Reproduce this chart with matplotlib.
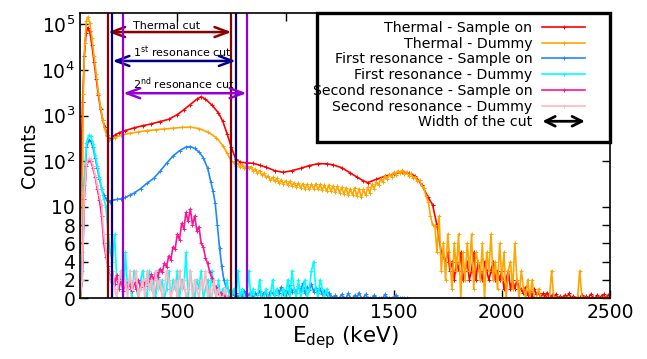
#!/usr/bin/env python3
"""
Deposited energy spectra for thermal / resonance runs with cut windows.
"""

import numpy as np
import matplotlib
matplotlib.use("Agg")
import matplotlib.pyplot as plt
from matplotlib.patches import FancyArrowPatch, Rectangle
from matplotlib.legend_handler import HandlerBase

# ---- data ----
red_e = [50, 55, 62, 70, 78, 86, 95, 105, 115, 125, 135, 145, 155, 165, 175, 185, 195, 210, 230, 260,
         300, 340, 380, 420, 460, 500, 530, 560, 590, 610, 630, 660, 690, 710, 730, 750, 770, 790, 820, 850,
         880, 910, 950, 990, 1030, 1070, 1110, 1150, 1190, 1220, 1260, 1300, 1330, 1360, 1380, 1420, 1460,
         1500, 1540, 1570, 1600, 1630, 1660, 1680, 1700, 1720, 1740]
red_c = [5, 100, 2000, 2e4, 6.5e4, 8.5e4, 7e4, 3.5e4, 1.5e4, 6500, 2800, 1400, 800, 550, 380, 300, 320, 370, 420, 470,
         540, 600, 660, 740, 830, 1050, 1350, 1750, 2300, 2600, 2300, 1700, 1150, 750, 400, 200, 110, 95, 92, 90,
         82, 74, 62, 57, 62, 70, 80, 88, 88, 83, 72, 55, 45, 37, 34, 40, 47,
         52, 58, 55, 47, 30, 16, 11, 8, 5, 4]
red_tail_start = 1750
red_tail = [5, 3, 4, 2, 4, 3, 5, 2, 3, 4, 2, 3, 5, 2, 4, 3, 2, 4, 3, 2, 3, 4, 2, 3, 2, 3, 1, 2, 3, 1, 2, 1, 2, 1,
            1, 0.5, 1.2, 0.3, 0.8, 0.2, 1, 0.4, 0.6, 0, 0.5, 0.2, 0.6, 0, 0.3, 0, 0.4, 0, 0.2, 0,
            0.3, 0, 0.5, 0, 0.2, 0, 0.1, 0, 0.3, 0, 0.2, 0, 0.4, 0.1, 0, 0.3, 0, 0.2, 0.4, 0, 0.3, 0]

orange_e = [55, 60, 65, 72, 80, 86, 95, 105, 115, 125, 135, 145, 155, 165, 175, 185, 195, 210, 240, 280,
            320, 360, 400, 440, 480, 520, 560, 600, 640, 680, 710, 730, 750]
orange_c = [0, 5, 3000, 4e4, 1.2e5, 1.45e5, 1.1e5, 5e4, 2e4, 8000, 3200, 1500, 800, 500, 350, 290, 300, 330, 370, 410,
            440, 470, 490, 510, 530, 550, 560, 520, 440, 330, 220, 150, 100]
orange_mid_start = 760
orange_mid = [95, 80, 90, 76, 84, 72, 80, 70, 76, 62,
              68, 56, 62, 50, 54, 44, 48, 38, 44, 36,
              42, 33, 39, 32, 37, 30, 36, 29, 34, 27,
              33, 26, 32, 25, 31, 24, 31, 25, 32, 24,
              31, 23, 30, 22, 30, 22, 29, 21, 28, 20,
              27, 19, 26, 18, 25, 18, 26, 17, 25, 16,
              24, 18, 27, 20, 31, 25, 35, 30, 41, 35,
              47, 40, 52, 45, 57, 50, 62, 54, 63, 52,
              58, 48, 54, 42, 46, 36, 38, 28, 26, 17,
              13, 9, 8]
orange_tail_start = 1690
orange_tail = [8, 5, 9, 3, 6, 2, 7, 4, 1, 6, 3, 7, 0, 5, 2, 6, 3, 7, 1, 5, 4, 2, 6, 0, 5, 3, 7, 2, 4, 1,
               6, 2, 5, 0, 3, 4, 1, 6, 2, 0, 3, 1, 0, 2,
               0, 2, 0, 0, 1, 0, 0, 0, 0, 0, 3, 0, 0, 0, 0, 0, 0, 0, 0, 0,
               0, 0, 0, 3, 0, 0, 0, 0, 0, 0, 0, 0, 0, 0, 0, 0, 0, 0]

blue_e = [50, 60, 70, 80, 90, 100, 110, 120, 130, 140, 150, 160, 170, 180, 190, 200, 220, 240, 260, 280,
          300, 330, 360, 390, 420, 450, 480, 510, 540, 560, 580, 600, 620, 640, 655, 665, 675, 685, 695, 705,
          715, 725, 740]
blue_c = [0, 2, 30, 200, 290, 280, 200, 120, 70, 40, 25, 18, 15, 14, 13, 14, 14.5, 15, 16, 18,
          20, 25, 33, 42, 60, 90, 130, 170, 205, 210, 190, 160, 120, 70, 35, 22, 12, 8, 5.5, 3.5,
          2, 1.2, 0.8]
blue_tail_start = 750
blue_tail = [0.8, 0.3, 0.6, 0, 0.5, 0.2, 0.8, 0, 0.4, 0.6, 0, 0.5, 0.3, 0.8, 0, 0.6, 0.4, 0, 0.7, 0.5,
             0.3, 0.9, 0.5, 1.2, 0.4, 0.8, 0.6, 1.4, 0.7, 1.0, 0.5, 1.3, 0.8, 1.6, 0.6, 1.2, 0.9, 1.5, 0.7, 1.1,
             0.6, 1.0, 0.4, 0.8, 0.3, 0.6, 0.2, 0, 0.3, 0,
             0, 0.4, 0, 0, 0.5, 0, 0, 0.3, 0, 0.6, 0, 0, 0.4, 0, 0, 0, 0.3, 0, 0, 0,
             0, 0.4, 0, 0, 0, 0, 0.3, 0, 0, 0, 0]

cyan_e = [50, 60, 70, 80, 90, 100, 110, 120, 130, 140, 150, 160, 170, 180, 190]
cyan_c = [0, 3, 40, 250, 370, 350, 240, 140, 80, 45, 25, 15, 10, 7, 5]
cyan_tail_start = 200
cyan_tail = [4, 7, 2, 1, 3, 0, 5, 1, 2, 0, 3, 1, 0, 2, 3, 1, 0, 3, 1, 2,
             0, 3, 1, 2, 0, 1, 3, 0, 2, 1, 3, 0, 2, 1, 5, 0, 3, 1, 0, 2,
             1, 3, 0, 1, 2, 0, 3, 1, 0, 2, 0, 1, 0, 2, 0, 0, 1, 0, 3, 0,
             1, 0, 0, 3, 0, 1, 0, 0, 2, 0, 0, 1, 0, 0, 2, 0, 1, 0, 0, 1,
             0, 2, 0, 3, 1, 0, 2, 0, 1, 2, 0, 1, 3, 4, 1, 0, 2, 1, 0, 1, 0]

mag_e = [50, 60, 70, 80, 90, 100, 110, 120, 130, 140, 150, 160, 170]
mag_c = [0, 2, 15, 80, 105, 100, 70, 45, 25, 14, 9, 6, 4.5]
mag_tail_start = 180
mag_tail = [3.5, 2, 3, 1.5, 2.5, 1, 2, 0.8, 1.8, 1, 1.5, 0.8, 1.8, 1, 2, 1.2, 1.8, 1.3, 2.2, 1.6,
            2.6, 2, 2.8, 2.3, 3.2, 2.8, 3.8, 3.4, 4.6, 4.2, 5.6, 5.4, 7, 6.4, 8.2, 7.6, 9.4, 8.4, 9.8, 8,
            9, 7.4, 7.8, 6, 5.6, 4.4, 3.8, 2.8, 2.2, 1.4, 1.2, 0.6, 0.6, 0.3, 0.2, 0.1, 0]

pink_e = [50, 60, 70, 80, 90, 100, 110, 120, 130, 140, 150, 160, 170, 180]
pink_c = [0, 2, 20, 90, 115, 110, 80, 50, 30, 18, 11, 7, 5, 3]
pink_tail_start = 190
pink_tail = [2, 3, 1, 0, 2, 3, 1, 2, 0, 3, 1, 2, 3, 0, 1, 2, 0, 3, 1, 2,
             0, 3, 1, 2, 0, 1, 3, 2, 0, 1, 2, 0, 3, 1, 2, 0, 1, 3, 0, 2,
             1, 0, 2, 1, 3, 0, 1, 0, 2, 0, 1, 0, 0, 1]

labels = ["Thermal - Sample on", "Thermal - Dummy", "First resonance - Sample on",
          "First resonance - Dummy", "Second resonance - Sample on", "Second resonance - Dummy"]
colors = ["#ff0000", "#ffa500", "#1e88ff", "#00ffff", "#ff1493", "#ffb6c1"]

cut_names = ["Thermal cut", "1$^{\\rm st}$ resonance cut", "2$^{\\rm nd}$ resonance cut"]
cut_lo = [180, 200, 250]
cut_hi = [750, 770, 820]
cut_colors = ["#8b0000", "#00008b", "#9400d3"]
arrow_y = [6.8e4, 1.58e4, 3.1e3]

E_MAX = 2500


def series(e, c, *segments, step=10):
    """Join a hand-read smooth part with evenly binned segments (start, values)."""
    x = list(e)
    y = list(c)
    for start, vals in segments:
        x += list(start + step * np.arange(len(vals)))
        y += list(vals)
    if x[-1] < E_MAX:
        x += [x[-1] + step, E_MAX]
        y += [0, 0]
    return np.array(x, float), np.array(y, float)


# linear 0..10, log above (10 counts == two decades of height)
def fwd(y):
    y = np.asarray(y, float)
    return np.where(y <= 10, y / 5.0, 2 + np.log10(np.maximum(y, 10) / 10.0))


def inv(t):
    t = np.asarray(t, float)
    return np.where(t <= 2, 5.0 * t, 10 * 10 ** (np.maximum(t, 2) - 2))


class ArrowHandler(HandlerBase):
    def create_artists(self, legend, orig_handle, xdescent, ydescent,
                       width, height, fontsize, trans):
        y = height / 2 - ydescent
        a = FancyArrowPatch((-xdescent, y), (width - xdescent, y),
                            arrowstyle="<->,head_length=0.7,head_width=0.35",
                            mutation_scale=10, lw=2, color="black",
                            shrinkA=0, shrinkB=0, transform=trans)
        return [a]


fig = plt.figure(figsize=(6.47, 3.59), dpi=100)
ax = fig.add_axes([80 / 647, 61 / 359, 530 / 647, 285 / 359])
ax.set_yscale("function", functions=(fwd, inv))

data = [series(red_e, red_c, (red_tail_start, red_tail)),
        series(orange_e, orange_c, (orange_mid_start, orange_mid), (orange_tail_start, orange_tail)),
        series(blue_e, blue_c, (blue_tail_start, blue_tail)),
        series(cyan_e, cyan_c, (cyan_tail_start, cyan_tail)),
        series(mag_e, mag_c, (mag_tail_start, mag_tail)),
        series(pink_e, pink_c, (pink_tail_start, pink_tail))]

handles = []
for (x, y), lab, col in zip(data, labels, colors):
    ln, = ax.plot(x, y, color=col, lw=1.2, marker="+", ms=3, mew=0.7, label=lab)
    handles.append(ln)

# cut windows
for name, lo, hi, col, ya in zip(cut_names, cut_lo, cut_hi, cut_colors, arrow_y):
    ax.axvline(lo, color=col, lw=1.6, zorder=4)
    ax.axvline(hi, color=col, lw=1.6, zorder=4)
    ax.annotate("", xy=(hi, ya), xytext=(lo, ya), zorder=4,
                arrowprops=dict(arrowstyle="<->,head_length=0.8,head_width=0.3",
                                mutation_scale=12, lw=1.8, color=col,
                                shrinkA=0, shrinkB=0))
    ax.annotate(name, xy=(295, ya), xytext=(0, 1), textcoords="offset points",
                ha="left", va="bottom", fontsize=8, zorder=4)

ax.set_xlim(50, E_MAX)
ax.set_ylim(0, 1.78e5)
ax.set_xticks([500, 1000, 1500, 2000, 2500])
ax.set_yticks([0, 2, 4, 6, 8, 10, 100, 1e3, 1e4, 1e5])
ax.set_yticklabels(["0", "2", "4", "6", "8", "10", "$10^2$", "$10^3$", "$10^4$", "$10^5$"])
ax.minorticks_off()
ax.tick_params(direction="in", top=True, right=True, length=6, width=1, labelsize=13.5)
for s in ax.spines.values():
    s.set_linewidth(1.2)
    s.set_zorder(8)

ax.set_xlabel("E$_{\\rm dep}$ (keV)", fontsize=15.5, labelpad=2)
ax.set_ylabel("Counts", fontsize=13.5, labelpad=2)

# legend box
ax.add_patch(Rectangle((0.447, 0.547), 0.553, 0.453, transform=ax.transAxes,
                       facecolor="white", edgecolor="black", lw=2.4,
                       zorder=6, clip_on=False))
cut_proxy = FancyArrowPatch((0, 0), (1, 0))
leg = ax.legend(handles + [cut_proxy], labels + ["Width of the cut"],
                loc="center right", bbox_to_anchor=(0.966, 0.782),
                frameon=False, markerfirst=False, fontsize=10.2, labelspacing=0.12,
                handlelength=3, handletextpad=0.7, borderpad=0, numpoints=1,
                handler_map={cut_proxy: ArrowHandler()})
leg.set_zorder(7)

fig.savefig("out.png", dpi=100)
